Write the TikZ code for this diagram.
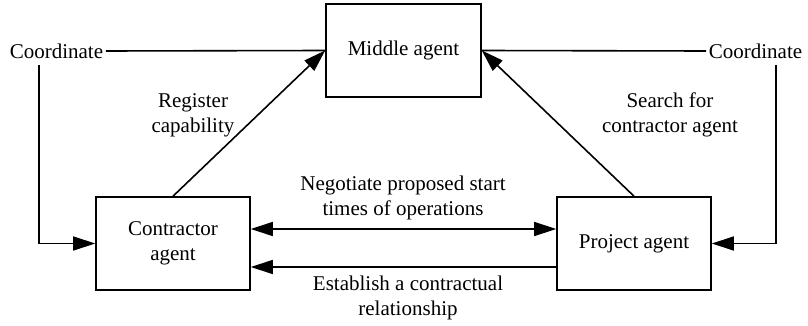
\documentclass[tikz,border=0pt]{standalone}
\usepackage{fontspec}
\setmainfont{Liberation Serif}
\newfontfamily\tms{Liberation Serif}
\usetikzlibrary{arrows.meta}
\begin{document}
\begin{tikzpicture}[x=1pt,y=-1pt,line width=1.6pt,
  txt/.style={font=\tms\fontsize{21}{25}\selectfont,align=center,inner sep=0pt},
  box/.style={txt,draw,rectangle,minimum width=154pt,minimum height=93pt},
  tip/.style={-{Triangle[length=22pt,width=14pt]}},
  dbl/.style={{Triangle[length=22pt,width=14pt]}-{Triangle[length=22pt,width=14pt]}}]
\useasboundingbox (0,0) rectangle (808,326);
\node[box,minimum width=155pt] (mid) at (403.5,50.5) {Middle agent};
\node[box] (con) at (173,243.5) {Contractor\\agent};
\node[box] (pro) at (634,243.5) {Project agent};
\node[txt,anchor=west] (cl) at (9,51) {Coordinate};
\node[txt,anchor=east] (cr) at (803,51) {Coordinate};
\node[txt] (reg) at (193,115) {Register\\capability};
\node[txt] (sea) at (670,115) {Search for\\contractor agent};
\node[txt] (neg) at (403,198) {Negotiate proposed start\\times of operations};
\node[txt] (est) at (408,298) {Establish a contractual\\relationship};
\coordinate (lv) at (39,65);
\coordinate (rv) at (776,65);
\draw ([xshift=2pt]cl.east) -- (mid.west);
\draw ([xshift=-2pt]cr.west) -- (mid.east);
\draw[tip] (con.north) -- (mid.west);
\draw[tip] (pro.north) -- (mid.east);
\draw[tip] (lv) |- (con.west);
\draw[tip] (rv) |- (pro.east);
\draw[dbl] ([yshift=14.5pt]con.east) -- ([yshift=14.5pt]pro.west);
\draw[tip] ([yshift=-23.5pt]pro.west) -- ([yshift=-23.5pt]con.east);
\end{tikzpicture}
\end{document}
